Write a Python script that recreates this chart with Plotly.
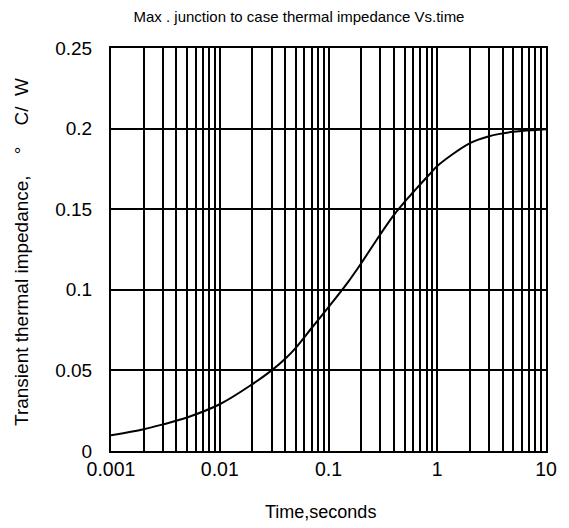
import plotly.graph_objects as go

# Curve readings (time in seconds, impedance in °C/W)
time_s = [0.001, 0.002, 0.003, 0.005, 0.01, 0.02, 0.03, 0.04, 0.05, 0.07, 0.1,
          0.15, 0.2, 0.3, 0.4, 0.5, 0.6, 0.7, 0.9, 1.0, 2.0, 3.0, 5.0, 10.0]
impedance = [0.0097, 0.0135, 0.0165, 0.0208, 0.0290, 0.0415, 0.0500, 0.0572, 0.0640,
             0.0763, 0.0893, 0.1045, 0.1165, 0.1345, 0.1465, 0.1545, 0.1605, 0.1655,
             0.1735, 0.1768, 0.1910, 0.1953, 0.1980, 0.1996]

x_major = [0.001, 0.01, 0.1, 1, 10]
x_major_labels = ["0.001", "0.01", "0.1", "1", "10"]
x_minor_mult = [2, 3, 4, 5, 6, 7, 8, 9]
y_ticks = [0, 0.05, 0.1, 0.15, 0.2, 0.25]
y_tick_labels = ["0", "0.05", "0.1", "0.15", "0.2", "0.25"]

title_text = "Max . junction to case thermal impedance Vs.time"
x_title = "Time,seconds"
y_title = "Transient thermal impedance,\u00a0\u00a0\u00a0\u00a0°\u00a0\u00a0\u00a0\u00a0C/\u00a0\u00a0W"

x_minor = [round(d * m, 6) for d in x_major[:-1] for m in x_minor_mult]

fig = go.Figure()
fig.add_trace(go.Scatter(x=time_s, y=impedance, mode="lines",
                         line=dict(color="black", width=2, shape="spline", smoothing=1.0),
                         showlegend=False, hoverinfo="skip"))

font_main = "Liberation Sans, Arial, sans-serif"
fig.update_layout(
    width=561, height=520,
    margin=dict(l=103, r=23, t=40, b=77),
    paper_bgcolor="white", plot_bgcolor="white",
    font=dict(family=font_main, size=19, color="black"),
    title=dict(text=title_text,
               x=0.5187, xanchor="center", y=0.984, yanchor="middle",
               font=dict(family="Liberation Sans Narrow, Arial Narrow, Liberation Sans, sans-serif",
                         size=15, color="black")),
    xaxis=dict(type="log", range=[-3, 1], tickvals=x_major, ticktext=x_major_labels,
               showgrid=True, gridcolor="black", gridwidth=1.5,
               minor=dict(tickvals=x_minor, showgrid=True, gridcolor="black", gridwidth=1.5, ticks=""),
               showline=True, linecolor="black", linewidth=2, mirror=True,
               ticks="", zeroline=False,
               tickfont=dict(size=19.5)),
    yaxis=dict(range=[0, 0.25], tickvals=y_ticks, ticktext=y_tick_labels,
               showgrid=True, gridcolor="black", gridwidth=1.5,
               showline=True, linecolor="black", linewidth=2, mirror=True,
               ticks="outside", ticklen=13, tickcolor="white", zeroline=False,
               tickfont=dict(size=19)),
    annotations=[
        dict(text=x_title, xref="paper", yref="paper", x=0.4805, y=-0.1514,
             xanchor="center", yanchor="middle", showarrow=False,
             font=dict(size=18, color="black")),
        dict(text=y_title, xref="paper", yref="paper", x=-0.2046, y=0.4938,
             xanchor="center", yanchor="middle", showarrow=False, textangle=-90,
             font=dict(size=19, color="black")),
    ],
)

fig.write_html("out.html")
